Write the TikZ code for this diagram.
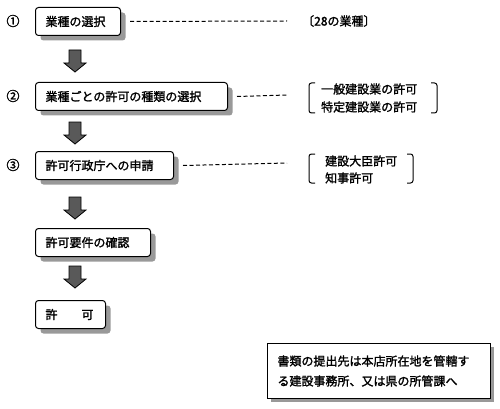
\documentclass[tikz,border=0pt]{standalone}
\usepackage{fontspec}
\setmainfont{Noto Sans CJK JP}[AutoFakeBold=1.6]
\begin{document}
\begin{tikzpicture}[x=1pt,y=-1pt,
  box/.style={draw,line width=1pt,rounded corners=3pt,fill=white,anchor=north west,
    inner xsep=10pt,inner ysep=0pt,minimum height=28pt,align=left,
    font=\fontsize{12}{14}\selectfont\bfseries,
    preaction={fill=black!40,transform canvas={xshift=5pt,yshift=-5pt}}},
  notebox/.style={draw,line width=1pt,fill=white,anchor=north west,
    inner xsep=10pt,inner ysep=0pt,minimum height=55pt,align=left,
    font=\fontsize{12}{20}\selectfont\bfseries,
    preaction={fill=black!40,transform canvas={xshift=3.5pt,yshift=-3.5pt}}},
  num/.style={font=\fontsize{13}{14}\selectfont\bfseries},
  lbl/.style={anchor=west,inner sep=0pt,font=\fontsize{12}{14}\selectfont\bfseries},
  dline/.style={line width=1pt,dash pattern=on 4pt off 2.5pt},
  brk/.style={line width=1pt,rounded corners=2.5pt},
  fat/.style={fill=black!65,draw=black,line width=0.8pt,line join=miter}]
\useasboundingbox (0,0) rectangle (500,409);
% circled numbers
\node[num] (n1) at (13,21) {①};
\node[num] (n2) at (13,96) {②};
\node[num] (n3) at (13,165) {③};
% boxes
\node[box,text width=65pt] (b1) at (35,7) {業種の選択};
\node[box,text width=172pt] (b2) at (35,82) {業種ごとの許可の種類の選択};
\node[box,text width=118pt] (b3) at (35,151) {許可行政庁への申請};
\node[box,text width=95pt] (b4) at (35,228) {許可要件の確認};
\node[box,text width=50pt] (b5) at (35,300) {許　　可};
% note
\node[notebox,text width=203pt,minimum width=223pt] (note) at (267,343)
  {書類の提出先は本店所在地を管轄す\\る建設事務所、又は県の所管課へ};
% fat arrows
\foreach \t in {50,122,197,266}{
  \draw[fat] (69,\t) -- ++(12,0) -- ++(0,13) -- ++(5,0) -- ++(-11,9) -- ++(-11,-9) -- ++(5,0) -- cycle;
}
% dashed leaders
\coordinate (e1) at (287,21);
\coordinate (e2) at (287,95);
\coordinate (e3) at (287,163);
\draw[dline] ([xshift=9pt]b1.east) -- (e1);
\draw[dline] ([xshift=9pt]b2.east) -- (e2);
\draw[dline] ([xshift=9pt]b3.east) -- (e3);
% right texts
\node[lbl] (t1) at (302,21) {〔28の業種〕};
\draw[brk] (315,83) -- (309,83) -- (309,113) -- (315,113);
\draw[brk] (431,83) -- (437,83) -- (437,113) -- (431,113);
\node[lbl] (t2a) at (321,89) {一般建設業の許可};
\node[lbl] (t2b) at (321,107) {特定建設業の許可};
\draw[brk] (315,154) -- (309,154) -- (309,183) -- (315,183);
\draw[brk] (407,154) -- (413,154) -- (413,183) -- (407,183);
\node[lbl] (t3a) at (325,161) {建設大臣許可};
\node[lbl] (t3b) at (325,178) {知事許可};
\end{tikzpicture}
\end{document}
